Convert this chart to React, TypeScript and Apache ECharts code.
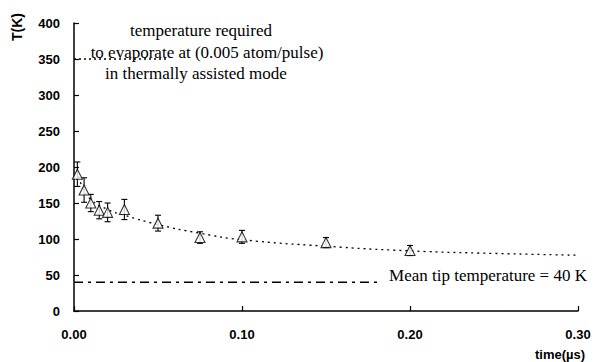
import React, { useEffect, useRef } from "react";
import * as echarts from "echarts";

const times = [0.002, 0.006, 0.010, 0.015, 0.020, 0.030, 0.050, 0.075, 0.100, 0.150, 0.200];
const temps = [190, 168, 150, 140, 137, 141, 122, 102, 103, 95, 84];
const errs = [17, 17, 12, 12, 13, 14, 11, 8, 9, 7, 7];

const fitTimes = [0.002, 0.005, 0.010, 0.020, 0.030, 0.050, 0.075, 0.100, 0.150, 0.200, 0.250, 0.300];
const fitTemps = [195, 172, 155, 141, 133, 120, 108, 99, 90, 83.5, 80, 77.5];

const thermalLineT = [0, 0.055];
const thermalLineV = 350;
const meanLineT = [0, 0.182];
const meanLineV = 40;

const SERIF = "Liberation Serif";
const SANS = "Liberation Sans";

export default function App() {
  const ref = useRef<HTMLDivElement>(null);
  useEffect(() => {
    if (!ref.current) return;
    const chart = echarts.init(ref.current, null, { renderer: "svg" });
    const pts = times.map((t, i) => [t, temps[i]]);
    const errData = times.map((t, i) => [t, temps[i] - errs[i], temps[i] + errs[i]]);
    const axisFont = { fontFamily: SANS, fontWeight: "bold" as const, fontSize: 13, color: "#000" };
    const noteStyle = { font: "17px " + SERIF, fontFamily: SERIF, fontSize: 17, fill: "#000", align: "center", verticalAlign: "middle" };
    chart.setOption({
      animation: false,
      backgroundColor: "#fff",
      textStyle: { fontFamily: SANS },
      grid: { left: 74, right: 17, top: 23, bottom: 51 },
      xAxis: {
        type: "value",
        min: 0,
        max: 0.3,
        interval: 0.1,
        axisLine: { lineStyle: { color: "#000", width: 1.5 } },
        axisTick: { inside: true, length: 5, lineStyle: { color: "#000", width: 1.2 } },
        splitLine: { show: false },
        axisLabel: { ...axisFont, margin: 17, formatter: (v: number) => v.toFixed(2) },
      },
      yAxis: {
        type: "value",
        min: 0,
        max: 400,
        interval: 50,
        axisLine: { show: true, lineStyle: { color: "#000", width: 1.5 } },
        axisTick: { show: true, inside: true, length: 5, lineStyle: { color: "#000", width: 1.2 } },
        splitLine: { show: false },
        axisLabel: { ...axisFont, margin: 14 },
      },
      series: [
        {
          type: "line",
          data: fitTimes.map((t, i) => [t, fitTemps[i]]),
          smooth: true,
          symbol: "none",
          lineStyle: { color: "#000", width: 1.3, type: [2, 4] },
          z: 1,
        },
        {
          type: "line",
          data: thermalLineT.map((t) => [t, thermalLineV]),
          symbol: "none",
          lineStyle: { color: "#000", width: 1.5, type: [2, 3] },
        },
        {
          type: "line",
          data: meanLineT.map((t) => [t, meanLineV]),
          symbol: "none",
          lineStyle: { color: "#000", width: 1.5, type: [9, 5, 3, 5] },
        },
        {
          type: "custom",
          data: errData,
          renderItem: (params: any, api: any) => {
            const x = api.value(0);
            const lo = api.coord([x, api.value(1)]);
            const hi = api.coord([x, api.value(2)]);
            const cap = 3;
            const style = { stroke: "#000", lineWidth: 1.1 };
            return {
              type: "group",
              children: [
                { type: "line", shape: { x1: lo[0], y1: lo[1], x2: hi[0], y2: hi[1] }, style },
                { type: "line", shape: { x1: lo[0] - cap, y1: lo[1], x2: lo[0] + cap, y2: lo[1] }, style },
                { type: "line", shape: { x1: hi[0] - cap, y1: hi[1], x2: hi[0] + cap, y2: hi[1] }, style },
              ],
            };
          },
          z: 3,
        },
        {
          type: "scatter",
          data: pts,
          symbol: "triangle",
          symbolSize: 10,
          itemStyle: { color: "#fff", borderColor: "#000", borderWidth: 1.1 },
          z: 4,
        },
      ],
      graphic: [
        {
          type: "text",
          x: 17,
          y: 27,
          rotation: Math.PI / 2,
          style: { text: "T(K)", font: "bold 14px " + SANS, fontFamily: SANS, fontWeight: "bold", fontSize: 14, fill: "#000", align: "center", verticalAlign: "middle" },
        },
        {
          type: "text",
          x: 560,
          y: 354,
          style: { text: "time(µs)", font: "bold 13px " + SANS, fontFamily: SANS, fontWeight: "bold", fontSize: 13, fill: "#000", align: "center", verticalAlign: "middle" },
        },
        { type: "text", x: 201, y: 30, style: { ...noteStyle, text: "temperature required" } },
        { type: "text", x: 207, y: 52, style: { ...noteStyle, text: "to evaporate at (0.005 atom/pulse)" } },
        { type: "text", x: 196, y: 73, style: { ...noteStyle, text: "in thermally assisted mode" } },
        { type: "text", x: 488, y: 275, style: { ...noteStyle, text: "Mean tip temperature = 40 K" } },
      ],
    });
    return () => chart.dispose();
  }, []);
  return <div ref={ref} style={{ width: 595, height: 362, position: "absolute", left: 0, top: 0 }} />;
}
